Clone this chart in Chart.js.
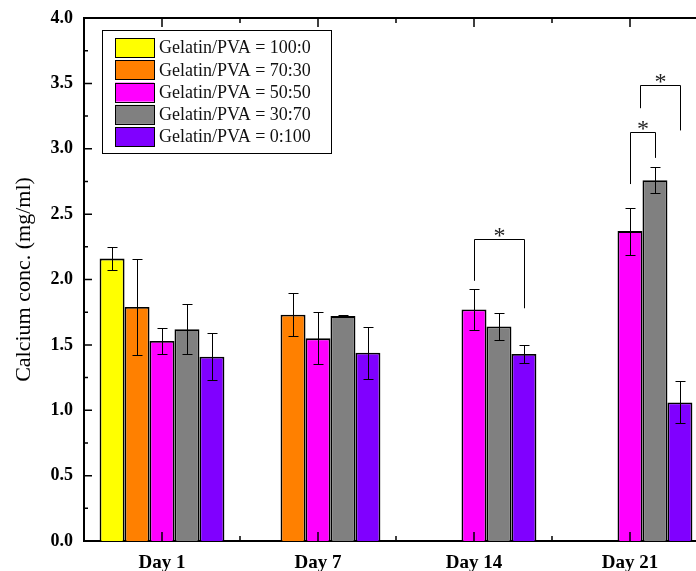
<!DOCTYPE html>
<html>
<head>
<meta charset="utf-8">
<script src="https://cdn.jsdelivr.net/npm/chart.js@4/dist/chart.umd.min.js"></script>
<style>
    html, body { margin: 0; padding: 0; background: #fff; overflow: hidden; }
    #wrap { width: 720px; height: 571px; }
</style>
</head>
<body>
<div id="wrap"><canvas id="calciumChart" width="720" height="571"></canvas></div>
<script>
// Calcium concentration per day, grouped by gelatin/PVA ratio

const categories = ['Day 1', 'Day 7', 'Day 14', 'Day 21'];
const seriesLabels = [
    'Gelatin/PVA = 100:0',
    'Gelatin/PVA = 70:30',
    'Gelatin/PVA = 50:50',
    'Gelatin/PVA = 30:70',
    'Gelatin/PVA = 0:100'
];
const seriesColors = ['#FFFF00', '#FF8000', '#FF00FF', '#808080', '#8000FF'];

const gel100 = [2.16, null, null, null];
const gel70 = [1.79, 1.73, null, null];
const gel50 = [1.53, 1.55, 1.77, 2.37];
const gel30 = [1.62, 1.72, 1.64, 2.76];
const gel0 = [1.41, 1.44, 1.43, 1.06];

const err100 = [0.09, null, null, null];
const err70 = [0.37, 0.165, null, null];
const err50 = [0.10, 0.20, 0.155, 0.18];
const err30 = [0.19, 0.01, 0.10, 0.10];
const err0 = [0.18, 0.20, 0.07, 0.16];

const yTicks = [0, 0.5, 1.0, 1.5, 2.0, 2.5, 3.0, 3.5, 4.0];

// significance brackets: category index, series slots (fractional = between bars), data-unit heights
const sigBrackets = [
    { cat: 2, from: 2, to: 4, top: 2.31, fromEnd: 1.99, toEnd: 1.78 },
    { cat: 3, from: 2, to: 3, top: 3.13, fromEnd: 2.73, toEnd: 2.93 },
    { cat: 3, from: 2.4, to: 4, top: 3.49, fromEnd: 3.31, toEnd: 3.14 }
];

const seriesValues = [gel100, gel70, gel50, gel30, gel0];
const seriesErrors = [err100, err70, err50, err30, err0];

const FONT = '"Liberation Serif", "Times New Roman", serif';

function slotX(chart, cat, slot) {
    const i = Math.floor(slot);
    const f = slot - i;
    const x0 = chart.getDatasetMeta(i).data[cat].x;
    if (f === 0) return x0;
    const x1 = chart.getDatasetMeta(i + 1).data[cat].x;
    return x0 + f * (x1 - x0);
}

const errorBarPlugin = {
    id: 'errorBars',
    afterDatasetsDraw(chart) {
        const ctx = chart.ctx;
        const y = chart.scales.y;
        ctx.save();
        ctx.strokeStyle = '#000';
        ctx.lineWidth = 1;
        seriesValues.forEach((vals, i) => {
            const meta = chart.getDatasetMeta(i);
            vals.forEach((v, j) => {
                const e = seriesErrors[i][j];
                if (v === null || e === null) return;
                const x = Math.round(meta.data[j].x) + 0.5;
                const yt = Math.round(y.getPixelForValue(v + e)) + 0.5;
                const yb = Math.round(y.getPixelForValue(v - e)) + 0.5;
                ctx.beginPath();
                ctx.moveTo(x, yt); ctx.lineTo(x, yb);
                ctx.moveTo(x - 5, yt); ctx.lineTo(x + 5, yt);
                ctx.moveTo(x - 5, yb); ctx.lineTo(x + 5, yb);
                ctx.stroke();
            });
        });
        ctx.restore();
    }
};

const bracketPlugin = {
    id: 'sigBrackets',
    afterDatasetsDraw(chart) {
        const ctx = chart.ctx;
        const y = chart.scales.y;
        ctx.save();
        ctx.strokeStyle = '#000';
        ctx.lineWidth = 1;
        ctx.fillStyle = '#222';
        ctx.font = '24px ' + FONT;
        ctx.textAlign = 'center';
        ctx.textBaseline = 'alphabetic';
        sigBrackets.forEach(b => {
            const x1 = Math.round(slotX(chart, b.cat, b.from)) + 0.5;
            const x2 = Math.round(slotX(chart, b.cat, b.to)) + 0.5;
            const yt = Math.round(y.getPixelForValue(b.top)) + 0.5;
            ctx.beginPath();
            ctx.moveTo(x1, y.getPixelForValue(b.fromEnd));
            ctx.lineTo(x1, yt);
            ctx.lineTo(x2, yt);
            ctx.lineTo(x2, y.getPixelForValue(b.toEnd));
            ctx.stroke();
            ctx.fillText('*', (x1 + x2) / 2, yt + 3);
        });
        ctx.restore();
    }
};

const frameAndLegendPlugin = {
    id: 'frameLegend',
    afterDraw(chart) {
        const ctx = chart.ctx;
        const a = chart.chartArea;
        const x = chart.scales.x;
        const y = chart.scales.y;
        ctx.save();
        ctx.strokeStyle = '#000';

        // top frame line
        ctx.lineWidth = 2;
        ctx.beginPath();
        ctx.moveTo(a.left - 1, a.top);
        ctx.lineTo(a.right, a.top);
        ctx.stroke();

        // inward ticks
        ctx.lineWidth = 1.5;
        ctx.beginPath();
        yTicks.forEach(t => {
            const py = y.getPixelForValue(t);
            ctx.moveTo(a.left, py); ctx.lineTo(a.left + 8, py);
            if (t < 4) {
                const pm = y.getPixelForValue(t + 0.25);
                ctx.moveTo(a.left, pm); ctx.lineTo(a.left + 4, pm);
            }
        });
        categories.forEach((c, i) => {
            const px = x.getPixelForValue(i);
            const half = (x.getPixelForValue(1) - x.getPixelForValue(0)) / 2;
            ctx.moveTo(px, a.bottom); ctx.lineTo(px, a.bottom - 9);
            ctx.moveTo(px, a.top); ctx.lineTo(px, a.top + 9);
            ctx.moveTo(px + half, a.bottom); ctx.lineTo(px + half, a.bottom - 5);
            ctx.moveTo(px + half, a.top); ctx.lineTo(px + half, a.top + 5);
        });
        ctx.stroke();

        // legend box
        const lx = a.left + 18, ly = a.top + 12;
        ctx.lineWidth = 1;
        ctx.strokeRect(lx + 0.5, ly + 0.5, 229, 123);
        ctx.font = '18px ' + FONT;
        ctx.textAlign = 'left';
        ctx.textBaseline = 'middle';
        seriesLabels.forEach((lab, i) => {
            const sy = ly + 8 + i * 22.3;
            ctx.fillStyle = seriesColors[i];
            ctx.fillRect(lx + 13, sy, 39, 19);
            ctx.strokeStyle = '#000';
            ctx.strokeRect(lx + 13.5, Math.round(sy) + 0.5, 39, 19);
            ctx.fillStyle = '#111';
            ctx.fillText(lab, lx + 57, sy + 10.5);
        });
        ctx.restore();
    }
};

document.addEventListener('DOMContentLoaded', function() {
    createCalciumChart();
});

function createCalciumChart() {
    const ctx = document.getElementById('calciumChart');
    if (!ctx) return;
    new Chart(ctx, {
        type: 'bar',
        data: {
            labels: categories,
            datasets: seriesValues.map((vals, i) => ({
                label: seriesLabels[i],
                data: vals,
                backgroundColor: seriesColors[i],
                borderColor: '#000',
                borderWidth: 1.8,
                categoryPercentage: 0.8,
                barPercentage: 1.0
            }))
        },
        options: {
            responsive: false,
            animation: false,
            layout: {
                padding: { top: 18, right: 12, bottom: 0, left: 0 }
            },
            plugins: {
                legend: { display: false },
                tooltip: { enabled: false }
            },
            scales: {
                x: {
                    grid: { display: false, drawTicks: false },
                    border: { display: true, color: '#000', width: 2 },
                    ticks: {
                        color: '#000',
                        padding: 11,
                        font: { family: FONT, size: 19, weight: 'bold' }
                    },
                    afterFit(scale) { scale.height = 30; }
                },
                y: {
                    min: 0,
                    max: 4,
                    grid: { display: false, drawTicks: false },
                    border: { display: true, color: '#000', width: 2 },
                    afterBuildTicks(scale) {
                        scale.ticks = yTicks.map(v => ({ value: v }));
                    },
                    ticks: {
                        color: '#000',
                        padding: 11,
                        font: { family: FONT, size: 18, weight: 'bold' },
                        callback: v => Number(v).toFixed(1)
                    },
                    title: {
                        display: true,
                        text: 'Calcium conc. (mg/ml)',
                        color: '#000',
                        padding: { top: 11, bottom: 0 },
                        font: { family: FONT, size: 22 }
                    },
                    afterFit(scale) {
                        scale.width = 84;
                        scale.paddingTop = 0;
                        scale.paddingBottom = 0;
                    }
                }
            }
        },
        plugins: [errorBarPlugin, bracketPlugin, frameAndLegendPlugin]
    });
}
</script>
</body>
</html>
